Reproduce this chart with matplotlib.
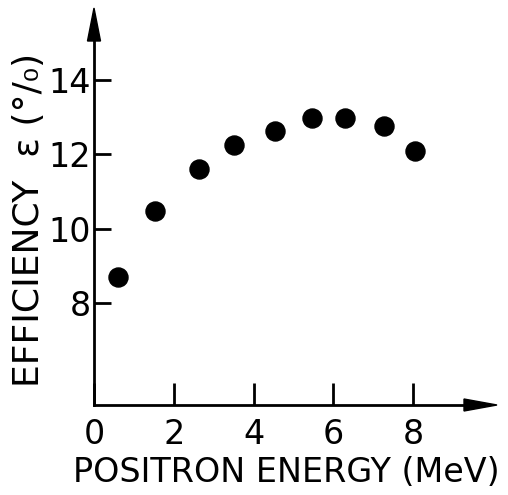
import matplotlib
matplotlib.use("Agg")
import matplotlib.pyplot as plt
from matplotlib.patches import Polygon

# Measured detection efficiency versus positron energy
energy = [0.60, 1.52, 2.62, 3.52, 4.53, 5.46, 6.30, 7.28, 8.05]
efficiency = [8.70, 10.48, 11.60, 12.25, 12.63, 12.98, 12.98, 12.76, 12.09]

x_ticks = [0, 2, 4, 6, 8]
y_ticks = [8, 10, 12, 14]
x_label = "POSITRON ENERGY (MeV)"
y_label = "EFFICIENCY  \u03b5 (\u00b0/\u2080)"

plt.rcParams["font.family"] = ["DejaVu Sans"]

W, H = 508, 495
fig = plt.figure(figsize=(W / 100, H / 100), dpi=100)
ax_left, ax_bottom, ax_w, ax_h = 94, 90, 403, 397   # pixels
ax = fig.add_axes([ax_left / W, ax_bottom / H, ax_w / W, ax_h / H])

ax.set_xlim(0, ax_w / 39.9)
ax.set_ylim(5.256, 15.937)

# axis lines ending in arrow heads
head_len = 33
for s in ("top", "right"):
    ax.spines[s].set_visible(False)
for s in ("left", "bottom"):
    ax.spines[s].set_linewidth(2.0)
    ax.spines[s].set_color("black")
y0, y1 = ax.get_ylim()
x0, x1 = ax.get_xlim()
ax.spines["left"].set_bounds(y0, y1 - (y1 - y0) * (head_len - 2) / ax_h)
ax.spines["bottom"].set_bounds(x0, x1 - (x1 - x0) * (head_len - 2) / ax_w)

hw_y = 6.5 / ax_w
ax.add_patch(Polygon([(0, 1), (-hw_y, 1 - head_len / ax_h), (hw_y, 1 - head_len / ax_h)],
                     closed=True, transform=ax.transAxes, color="black", clip_on=False))
hw_x = 6.0 / ax_h
ax.add_patch(Polygon([(1, 0), (1 - head_len / ax_w, hw_x), (1 - head_len / ax_w, -hw_x)],
                     closed=True, transform=ax.transAxes, color="black", clip_on=False))

ax.set_xticks(x_ticks)
ax.set_xticklabels([str(t) for t in x_ticks])
ax.set_yticks(y_ticks)
ax.set_yticklabels([str(t) for t in y_ticks])
ax.tick_params(axis="x", direction="in", length=16, width=2, pad=9.5, labelsize=24)
ax.tick_params(axis="y", direction="in", length=12, width=2, pad=2, labelsize=24)

ax.plot(energy, efficiency, "o", ms=13.7, color="black", clip_on=False)


def frac_x(px):
    return (px - ax_left) / ax_w


def frac_y(py_from_top):
    return (H - ax_bottom - py_from_top) / ax_h


ax.text(frac_x(286), frac_y(472), x_label,
        transform=ax.transAxes, ha="center", va="center", fontsize=24)
ax.text(frac_x(29), frac_y(220), y_label,
        transform=ax.transAxes, ha="center", va="center", rotation=90, fontsize=26)

fig.savefig("out.png", dpi=100)
